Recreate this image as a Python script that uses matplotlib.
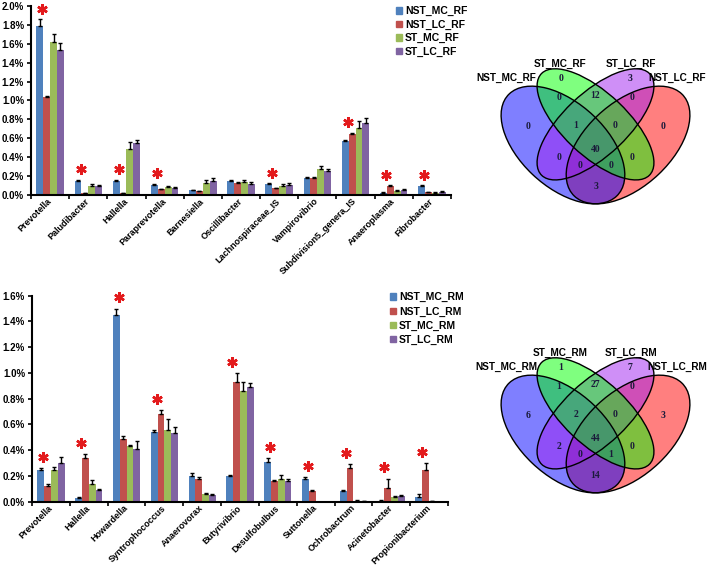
import numpy as np
import matplotlib
matplotlib.use('Agg')
import matplotlib.pyplot as plt
from matplotlib.patches import Ellipse, Patch
from matplotlib.ticker import FixedLocator

plt.rcParams['font.family'] = ['Liberation Sans', 'DejaVu Sans']

# ---------------- data ----------------
colors = ['#4F81BD', '#C0504D', '#9BBB59', '#8064A2']

# rumen fluid (RF)
rf_genera = ['Prevotella', 'Paludibacter', 'Hallella', 'Paraprevotella', 'Barnesiella',
             'Oscillibacter', 'Lachnospiraceae_IS', 'Vampirovibrio', 'Subdivision5_genera_IS',
             'Anaeroplasma', 'Fibrobacter']
rf_groups = ['NST_MC_RF', 'NST_LC_RF', 'ST_MC_RF', 'ST_LC_RF']
rf_nst_mc = [1.79, 0.15, 0.15, 0.11, 0.05, 0.15, 0.12, 0.18, 0.57, 0.025, 0.095]
rf_nst_lc = [1.04, 0.02, 0.02, 0.06, 0.04, 0.13, 0.07, 0.18, 0.65, 0.09, 0.03]
rf_st_mc = [1.62, 0.10, 0.49, 0.08, 0.13, 0.14, 0.095, 0.27, 0.71, 0.045, 0.02]
rf_st_lc = [1.53, 0.09, 0.55, 0.07, 0.15, 0.12, 0.11, 0.25, 0.76, 0.05, 0.035]
rf_err_nst_mc = [0.07, 0.01, 0.01, 0.01, 0.005, 0.01, 0.005, 0.01, 0.01, 0.005, 0.01]
rf_err_nst_lc = [0.01, 0.005, 0.005, 0.005, 0.005, 0.01, 0.005, 0.01, 0.01, 0.015, 0.005]
rf_err_st_mc = [0.08, 0.02, 0.07, 0.01, 0.03, 0.02, 0.02, 0.04, 0.07, 0.01, 0.01]
rf_err_st_lc = [0.08, 0.02, 0.03, 0.01, 0.03, 0.02, 0.02, 0.02, 0.05, 0.01, 0.01]
rf_sig = [1, 1, 1, 1, 0, 0, 1, 0, 1, 1, 1]

# rumen mucosa (RM)
rm_genera = ['Prevotella', 'Hallella', 'Howardella', 'Syntrophococcus', 'Anaerovorax',
             'Butyrivibrio', 'Desulfobulbus', 'Suttonella', 'Ochrobactrum', 'Acinetobacter',
             'Propionibacterium']
rm_groups = ['NST_MC_RM', 'NST_LC_RM', 'ST_MC_RM', 'ST_LC_RM']
rm_nst_mc = [0.25, 0.03, 1.45, 0.54, 0.20, 0.20, 0.31, 0.18, 0.08, 0.005, 0.04]
rm_nst_lc = [0.12, 0.34, 0.49, 0.68, 0.18, 0.93, 0.16, 0.08, 0.26, 0.11, 0.25]
rm_st_mc = [0.25, 0.14, 0.43, 0.56, 0.06, 0.86, 0.18, 0.0, 0.005, 0.04, 0.003]
rm_st_lc = [0.30, 0.09, 0.41, 0.53, 0.05, 0.89, 0.16, 0.0, 0.003, 0.045, 0.0]
rm_err_nst_mc = [0.01, 0.01, 0.05, 0.02, 0.02, 0.005, 0.03, 0.01, 0.01, 0.005, 0.02]
rm_err_nst_lc = [0.02, 0.03, 0.02, 0.03, 0.01, 0.07, 0.005, 0.01, 0.03, 0.07, 0.05]
rm_err_st_mc = [0.02, 0.03, 0.01, 0.08, 0.005, 0.07, 0.03, 0.0, 0.005, 0.005, 0.003]
rm_err_st_lc = [0.05, 0.01, 0.06, 0.05, 0.01, 0.03, 0.02, 0.0, 0.003, 0.005, 0.0]
rm_sig = [1, 1, 1, 1, 0, 1, 1, 1, 1, 1, 1]

# Venn counts, regions in order:
# SMC only, SLC only, SMC&SLC, NMC&SMC, SLC&NLC, NMC only, NLC only,
# NMC&SMC&SLC, SMC&SLC&NLC, all, NMC&SLC, SMC&NLC, NMC&SLC&NLC, NMC&SMC&NLC, NMC&NLC
venn_rf = [0, 3, 12, 0, 0, 0, 0, 1, 0, 40, 0, 0, 0, 0, 3]
venn_rm = [1, 7, 27, 1, 0, 6, 3, 2, 0, 44, 2, 0, 0, 1, 14]

# ---------------- layout ----------------
venn_pos = [(0.34, 0.79), (0.66, 0.79), (0.5, 0.71), (0.33, 0.70), (0.67, 0.70),
            (0.19, 0.56), (0.81, 0.56), (0.41, 0.565), (0.59, 0.565), (0.5, 0.45),
            (0.33, 0.41), (0.67, 0.41), (0.43, 0.37), (0.57, 0.37), (0.5, 0.27)]
venn_label_pos = [(0.09, 0.795), (0.335, 0.865), (0.665, 0.865), (0.875, 0.795)]

fig = plt.figure(figsize=(7.09, 5.68), dpi=100)


def bar_panel(rect, genera, vals, errs, sig, ymax, groups, leg_anchor, leg_space):
    ax = fig.add_axes(rect)
    x = np.arange(len(genera))
    w = 0.18
    for k in range(4):
        ax.bar(x + (k - 1.5) * w, vals[k], w, color=colors[k], zorder=2,
               yerr=[np.zeros(len(genera)), errs[k]],
               error_kw=dict(ecolor='black', elinewidth=1, capsize=1.6, capthick=1))
    # significance stars
    top = np.maximum(np.array(vals[0]) + np.array(errs[0]), np.array(vals[1]) + np.array(errs[1]))
    for i in range(len(genera)):
        if sig[i]:
            ax.plot(i - 0.2, top[i] + 0.055 * ymax, marker=(6, 2, 0), ms=7.5, mew=1.8,
                    color='#E31A1C', zorder=3, clip_on=False)
    ax.set_xlim(-0.5, len(genera) - 0.5)
    ax.set_ylim(0, ymax)
    ax.set_yticks(np.arange(0, ymax + 0.001, 0.2))
    ax.set_yticklabels(['%.1f%%' % v for v in np.arange(0, ymax + 0.001, 0.2)],
                       fontsize=7, fontweight='bold')
    ax.set_xticks(x)
    ax.set_xticklabels(genera, rotation=45, ha='right', va='center', rotation_mode='anchor',
                       fontsize=6.5, fontweight='bold')
    ax.tick_params(axis='x', which='major', length=0, pad=3.5)
    ax.xaxis.set_minor_locator(FixedLocator(np.arange(-0.5, len(genera), 1.0)))
    ax.tick_params(axis='x', which='minor', length=3, width=1.2, direction='out')
    ax.tick_params(axis='y', length=3, width=1.2, pad=2)
    for s in ['top', 'right']:
        ax.spines[s].set_visible(False)
    for s in ['left', 'bottom']:
        ax.spines[s].set_linewidth(1.5)
    handles = [Patch(color=c) for c in colors]
    fig.legend(handles, groups, loc='upper left', bbox_to_anchor=leg_anchor,
               frameon=False, handlelength=0.55, handleheight=0.55, handletextpad=0.3,
               labelspacing=leg_space, borderaxespad=0,
               prop=dict(family='Liberation Sans', weight='bold', size=7.5))
    return ax


bar_panel([31 / 709, 1 - 195 / 568, 420 / 709, 189 / 568], rf_genera,
          [rf_nst_mc, rf_nst_lc, rf_st_mc, rf_st_lc],
          [rf_err_nst_mc, rf_err_nst_lc, rf_err_st_mc, rf_err_st_lc],
          rf_sig, 2.0, rf_groups, (392 / 709, 1 - 2 / 568), 0.32)

bar_panel([32 / 709, 1 - 501.7 / 568, 416 / 709, 206 / 568], rm_genera,
          [rm_nst_mc, rm_nst_lc, rm_st_mc, rm_st_lc],
          [rm_err_nst_mc, rm_err_nst_lc, rm_err_st_mc, rm_err_st_lc],
          rm_sig, 1.6, rm_groups, (386 / 709, 1 - 288 / 568), 0.4)


def venn_panel(rect, counts, names):
    ax = fig.add_axes(rect)
    ax.set_xlim(0, 1)
    ax.set_ylim(0, 1)
    ax.axis('off')
    # drawn in this order so the overlaps blend like the original
    shapes = [((0.65, 0.47), 0.70, 0.40, 45, 'red'),
              ((0.35, 0.47), 0.70, 0.40, -45, 'blue'),
              ((0.50, 0.57), 0.70, 0.30, 45, '#A020F0'),
              ((0.50, 0.57), 0.70, 0.30, -45, 'lime')]
    for (c, wd, ht, ang, col) in shapes:
        ax.add_patch(Ellipse(c, wd, ht, angle=ang, facecolor=col, alpha=0.5, lw=0))
    for (c, wd, ht, ang, col) in shapes:
        ax.add_patch(Ellipse(c, wd, ht, angle=ang, facecolor='none', edgecolor='black', lw=1))
    for n, (px, py) in zip(counts, venn_pos):
        ax.text(px, py, str(n), ha='center', va='center', fontsize=7, fontweight='bold',
                family='Liberation Serif', color='#1a1a3a')
    for name, (px, py) in zip(names, venn_label_pos):
        ax.text(px, py, name, ha='center', va='center', fontsize=7.2, fontweight='bold')


venn_panel([487 / 709, 1 - 242 / 568, 217 / 709, 206.4 / 568], venn_rf,
           ['NST_MC_RF', 'ST_MC_RF', 'ST_LC_RF', 'NST_LC_RF'])
venn_panel([487 / 709, 1 - 531 / 568, 217 / 709, 206.4 / 568], venn_rm,
           ['NST_MC_RM', 'ST_MC_RM', 'ST_LC_RM', 'NST_LC_RM'])

fig.savefig('out.png', dpi=100)
